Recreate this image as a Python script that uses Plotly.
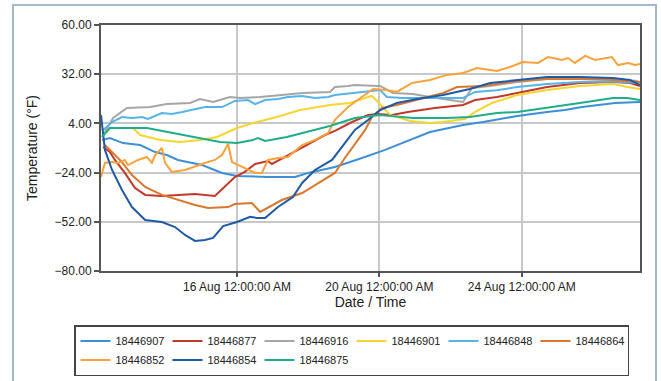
import pandas as pd
import plotly.graph_objects as go

# time offsets in days since 12 Aug 00:00, temperatures in °F
BASE = "2019-08-12"

names = ["18446907", "18446877", "18446916", "18446901", "18446848",
         "18446864", "18446852", "18446854", "18446875"]
colors = ["#3d8fd6", "#c1392b", "#a6a6a6", "#f7d531", "#56b4e9",
          "#d9782d", "#f8a23c", "#1f5aa6", "#1fae87"]

d_907 = [0.21, 0.43, 0.80, 1.28, 1.70, 2.03, 2.34, 3.02, 3.58, 4.00, 4.84, 5.63, 5.99,
         6.75, 7.51, 8.16, 9.42, 10.35, 10.91, 11.87, 12.71, 13.21, 13.69, 14.62, 15.32]
v_907 = [-5.4, -4.3, -7.2, -8.3, -12.3, -14.0, -16.8, -19.7, -24.2, -25.9, -26.5, -26.5, -24.2,
         -20.8, -15.7, -11.1, -0.9, 3.1, 4.8, 8.2, 10.5, 11.6, 13.3, 15.6, 16.2]

d_877 = [0.24, 0.43, 0.57, 0.85, 1.13, 1.42, 1.89, 2.34, 2.82, 3.38, 3.61, 3.94, 4.22, 4.51,
         4.87, 4.98, 5.35, 5.71, 6.11, 6.47, 6.75, 7.23, 7.68, 7.96, 8.35, 8.80, 9.56, 10.35,
         10.69, 11.30, 11.87, 12.71, 13.63, 14.56, 15.04, 15.32]
v_877 = [-9.4, -12.3, -16.8, -24.2, -32.7, -36.7, -37.3, -36.7, -36.2, -37.3, -32.7, -26.5,
         -23.6, -19.1, -17.4, -19.1, -15.1, -11.1, -6.6, -2.6, -0.3, 4.8, 8.8, 9.4, 8.8, 10.5,
         12.8, 14.5, 17.3, 19.0, 21.3, 24.7, 27.0, 27.6, 27.0, 25.3]

d_916 = [0.21, 0.52, 0.91, 1.56, 2.03, 2.68, 2.96, 3.33, 3.80, 4.08, 4.65, 5.57, 5.85, 6.61,
         6.75, 7.12, 7.31, 7.96, 8.02, 8.38, 8.94, 9.42, 10.35, 10.60, 11.11, 11.87, 12.71,
         13.63, 14.56, 15.26]
v_916 = [-3.7, 7.1, 12.8, 13.3, 15.0, 15.6, 17.9, 16.2, 19.0, 18.5, 19.0, 20.7, 21.3, 21.9,
         24.7, 25.3, 25.9, 25.3, 25.3, 21.3, 20.7, 19.0, 16.2, 24.2, 25.3, 27.6, 29.3,
         29.8, 29.3, 28.1]

d_901 = [0.21, 0.43, 1.08, 1.28, 1.84, 2.40, 2.96, 3.44, 4.00, 4.45, 5.12, 5.77, 6.61, 7.17,
         7.51, 7.79, 7.96, 8.10, 8.30, 8.86, 9.42, 9.76, 10.40, 10.69, 11.16, 11.87, 12.71,
         13.63, 14.56, 14.96, 15.32]
v_901 = [-3.7, 1.4, 1.4, -2.6, -5.4, -6.6, -5.4, -3.7, 1.4, 4.2, 7.6, 11.6, 14.5, 15.6,
         17.9, 19.6, 16.2, 13.3, 8.8, 5.4, 4.2, 4.8, 6.5, 10.5, 15.6, 20.2, 23.0,
         25.3, 26.4, 24.7, 23.6]

d_848 = [0.24, 0.49, 0.77, 1.05, 1.33, 1.50, 1.89, 2.17, 2.46, 2.82, 3.10, 3.58, 3.94, 4.31,
         4.51, 4.79, 5.15, 5.43, 5.83, 6.19, 6.56, 6.75, 7.65, 7.88, 8.02, 8.21, 8.66, 9.42,
         10.35, 10.69, 11.30, 11.87, 12.71, 13.63, 14.56, 15.26]
v_848 = [0.3, 4.8, 7.6, 7.1, 7.6, 6.5, 9.9, 9.4, 10.5, 12.2, 13.3, 13.3, 16.8, 17.3,
         15.0, 17.3, 17.9, 19.0, 19.6, 18.5, 19.0, 20.2, 21.9, 22.4, 23.0, 19.0, 18.5, 18.5,
         18.5, 21.9, 22.9, 24.7, 26.4, 27.6, 27.8, 27.0]

d_864 = [0.29, 0.77, 1.05, 1.42, 1.89, 2.34, 2.82, 3.19, 3.58, 3.75, 3.94, 4.42, 4.65, 4.87,
         5.26, 5.83, 6.28, 6.75, 7.03, 7.40, 7.60, 7.79, 8.07, 8.49, 9.06, 9.79, 10.18, 10.91,
         11.87, 12.71, 13.63, 14.56, 15.32]
v_864 = [-8.3, -18.0, -25.4, -32.2, -36.7, -39.6, -42.4, -44.1, -43.6, -43.6, -41.9, -41.3,
         -46.4, -44.1, -39.6, -35.6, -29.9, -24.2, -15.7, -5.4, 0.3, 7.6, 12.8, 14.5, 17.3,
         21.3, 24.7, 25.3, 28.1, 29.3, 29.3, 28.7, 27.6]

d_852 = [0.18, 0.29, 0.49, 0.66, 0.85, 0.94, 1.22, 1.47, 1.61, 1.70, 1.89, 1.98, 2.17, 2.54,
         3.10, 3.38, 3.58, 3.75, 3.86, 4.14, 4.51, 4.70, 4.87, 5.15, 5.43, 5.83, 6.19, 6.56,
         6.75, 7.12, 7.51, 7.82, 8.21, 8.49, 8.92, 9.42, 9.90, 10.35, 10.74, 11.30, 11.67,
         12.03, 12.46, 12.74, 13.13, 13.30, 13.49, 13.78, 14.06, 14.53, 14.70, 14.99, 15.18,
         15.32]
v_852 = [-26.5, -18.5, -18.0, -18.5, -16.8, -19.7, -16.8, -15.1, -18.5, -14.0, -10.0, -18.5,
         -23.6, -22.5, -18.5, -16.8, -14.0, -7.7, -18.0, -20.8, -24.2, -24.2, -16.8, -15.7,
         -15.1, -8.3, -5.4, -1.5, 6.0, 13.3, 19.0, 23.6, 23.0, 21.9, 27.0, 28.7, 31.6, 32.7,
         35.5, 33.8, 36.1, 38.9, 38.4, 41.8, 40.1, 41.2, 38.4, 42.4, 40.1, 41.8, 37.2, 38.4,
         37.2, 37.8]

d_854 = [0.18, 0.29, 0.49, 0.77, 1.05, 1.42, 1.89, 2.26, 2.54, 2.82, 3.10, 3.33, 3.61, 4.00,
         4.37, 4.56, 4.79, 5.15, 5.57, 5.83, 6.19, 6.67, 7.03, 7.31, 7.68, 8.02, 8.49, 9.06,
         9.79, 10.54, 11.11, 11.87, 12.71, 13.63, 14.56, 15.04, 15.32]
v_854 = [8.8, -11.1, -22.5, -33.9, -43.6, -51.0, -52.1, -55.0, -59.5, -62.9, -62.3, -61.2,
         -54.4, -52.1, -49.2, -49.8, -49.8, -43.6, -37.9, -29.9, -22.5, -16.8, -7.2, 0.3, 5.9,
         11.6, 15.6, 17.9, 20.2, 23.6, 27.0, 28.7, 30.4, 30.4, 29.8, 28.7, 25.9]

d_875 = [0.21, 0.43, 1.08, 1.47, 2.20, 2.96, 3.52, 4.00, 4.45, 4.59, 4.79, 5.40, 5.97, 6.61,
         7.31, 8.02, 8.94, 9.90, 10.54, 11.30, 11.87, 12.71, 13.63, 14.56, 14.96, 15.32]
v_875 = [-3.7, 1.4, 1.4, 1.4, -1.5, -4.3, -6.6, -7.2, -5.4, -4.3, -6.0, -3.7, -0.9, 2.5,
         7.1, 8.8, 7.1, 7.1, 7.6, 9.9, 10.5, 12.8, 15.6, 18.5, 18.5, 17.3]

series_days = [d_907, d_877, d_916, d_901, d_848, d_864, d_852, d_854, d_875]
series_vals = [v_907, v_877, v_916, v_901, v_848, v_864, v_852, v_854, v_875]

y_ticks = [-80, -52, -24, 4, 32, 60]
x_tick_dates = ["2019-08-16", "2019-08-20", "2019-08-24"]
x_tick_labels = ["16 Aug 12:00:00 AM", "20 Aug 12:00:00 AM", "24 Aug 12:00:00 AM"]

base = pd.Timestamp(BASE)
fig = go.Figure()
for name, col, dd, vv in zip(names, colors, series_days, series_vals):
    xs = [base + pd.Timedelta(days=v) for v in dd]
    fig.add_trace(go.Scatter(x=xs, y=vv, mode="lines", name=name,
                             line=dict(color=col, width=2)))

W, H = 661, 381
L, R, T, B = 101, 21, 25, 110
pw, ph = W - L - R, H - T - B

def px_x(p):
    return (p - L) / pw

def px_y(p):
    return (H - B - p) / ph

fig.update_layout(
    width=W, height=H,
    margin=dict(l=L, r=R, t=T, b=B, autoexpand=False),
    paper_bgcolor="white", plot_bgcolor="white",
    font=dict(family="Liberation Sans, Arial, sans-serif", color="#222", size=12),
    showlegend=True,
    legend=dict(orientation="h", x=px_x(74), y=px_y(325), xanchor="left", yanchor="top",
                bordercolor="#444", borderwidth=1.5, font=dict(size=11),
                itemwidth=30, entrywidth=47, entrywidthmode="pixels",
                tracegroupgap=0, traceorder="normal"),
    xaxis=dict(
        range=[base + pd.Timedelta(days=0.18), base + pd.Timedelta(days=15.32)],
        tickvals=[pd.Timestamp(t) for t in x_tick_dates], ticktext=x_tick_labels,
        showgrid=True, gridcolor="#c8c8c8", gridwidth=1.5,
        showline=True, linecolor="#555", linewidth=2, mirror=True,
        ticks="outside", ticklen=4, tickcolor="#555", tickwidth=1.5,
        title=dict(text="Date / Time", font=dict(size=14, color="#222"), standoff=2),
        tickfont=dict(size=12, color="#222"), zeroline=False,
    ),
    yaxis=dict(
        range=[-80, 60], tickvals=y_ticks, tickformat=".2f",
        showgrid=True, gridcolor="#c8c8c8", gridwidth=1.5,
        showline=True, linecolor="#555", linewidth=2, mirror=True,
        ticks="outside", ticklen=5, tickcolor="#555", tickwidth=1.5,
        title=dict(text="Temperature (°F)", font=dict(size=14, color="#222"), standoff=14),
        tickfont=dict(size=12, color="#222"), zeroline=False,
    ),
    shapes=[dict(type="rect", xref="paper", yref="paper",
                 x0=px_x(13), x1=px_x(656), y0=px_y(392), y1=px_y(5),
                 line=dict(color="#a3b8cc", width=2), layer="below")],
)

fig.write_html("out.html", config={"displayModeBar": False},
               post_script="document.body.style.margin='0';")
